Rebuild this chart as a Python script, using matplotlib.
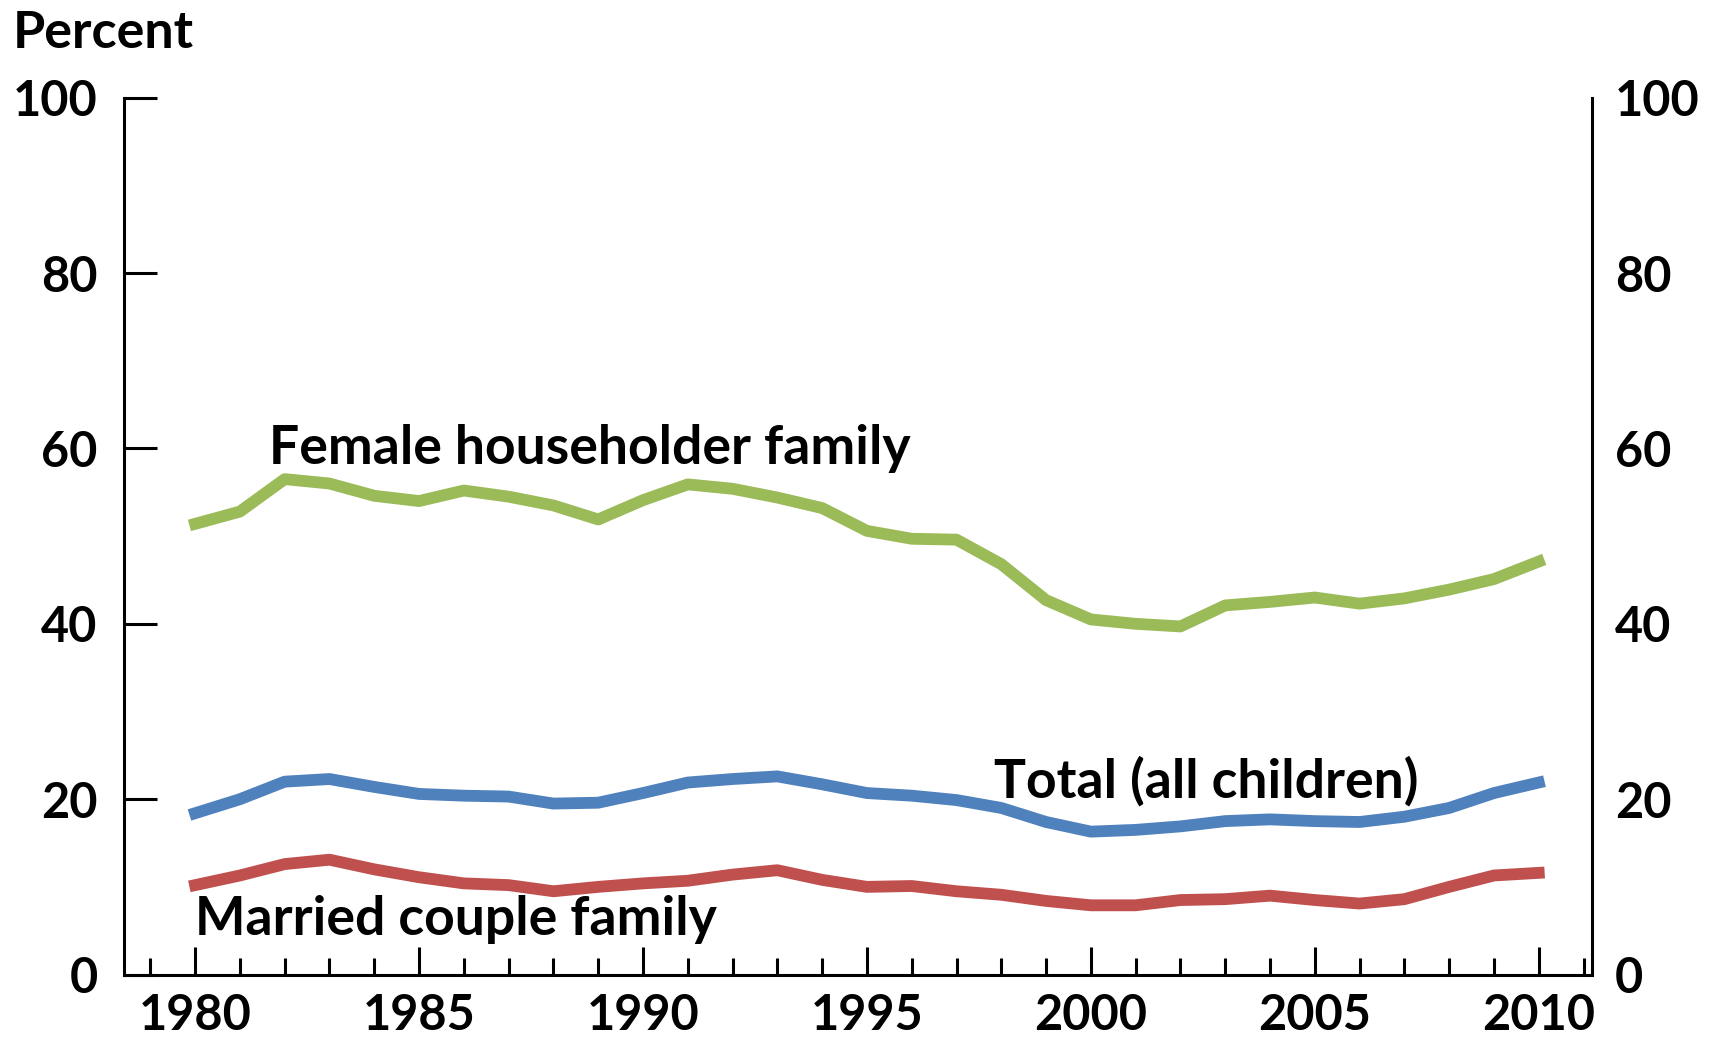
import matplotlib.pyplot as plt
from matplotlib.ticker import MultipleLocator

years = list(range(1980, 2011))

female_householder = [51.4, 52.8, 56.5, 56.0, 54.6, 54.0, 55.2, 54.5, 53.5, 51.9,
                      54.1, 55.9, 55.4, 54.4, 53.2, 50.6, 49.7, 49.6, 46.8, 42.7,
                      40.5, 40.0, 39.7, 42.1, 42.5, 43.0, 42.3, 42.9, 43.9, 45.1, 47.1]
total_children = [18.4, 20.0, 22.0, 22.3, 21.4, 20.6, 20.4, 20.3, 19.5, 19.6,
                  20.7, 21.9, 22.3, 22.6, 21.7, 20.7, 20.4, 19.9, 19.0, 17.4,
                  16.3, 16.5, 16.9, 17.5, 17.7, 17.5, 17.4, 18.0, 19.0, 20.7, 21.9]
married_couple = [10.2, 11.3, 12.6, 13.1, 12.0, 11.1, 10.4, 10.2, 9.5, 10.0,
                  10.4, 10.7, 11.4, 11.9, 10.8, 10.0, 10.1, 9.5, 9.1, 8.4,
                  7.9, 7.9, 8.5, 8.6, 9.0, 8.5, 8.1, 8.6, 10.0, 11.3, 11.6]

y_ticks = [0, 20, 40, 60, 80, 100]
x_ticks = [1980, 1985, 1990, 1995, 2000, 2005, 2010]

font = "Lato"
tick_size = 35
label_size = 38.5
weight = "bold"

fig = plt.figure(figsize=(17.21, 10.37), dpi=100)
ax = fig.add_axes([0.0720, 0.0602, 0.8528, 0.8456])

ax.plot(years, female_householder, color="#9BBB59", linewidth=8.5)
ax.plot(years, total_children, color="#4F81BD", linewidth=8.5)
ax.plot(years, married_couple, color="#C0504D", linewidth=8.5)

ax.set_xlim(1978.41, 2011.18)
ax.set_ylim(0, 100)

for side in ["left", "right", "bottom"]:
    ax.spines[side].set_linewidth(2.2)
ax.spines["top"].set_visible(False)

ax.set_xticks(x_ticks)
ax.xaxis.set_minor_locator(MultipleLocator(1))
ax.tick_params(axis="x", which="major", direction="in", length=20, width=2.2, pad=13)
ax.tick_params(axis="x", which="minor", direction="in", length=12.5, width=2.2)
ax.set_yticks(y_ticks)
ax.tick_params(axis="y", which="major", direction="in", length=24, width=2.2,
               left=True, right=True, labelleft=True, labelright=False, pad=19)

for lbl in ax.get_xticklabels() + ax.get_yticklabels():
    lbl.set_fontfamily(font)
    lbl.set_fontsize(tick_size)
    lbl.set_fontweight(weight)

# no tick marks at 0 on the y axes
ax.yaxis.get_major_ticks()[0].tick1line.set_visible(False)
ax.yaxis.get_major_ticks()[0].tick2line.set_visible(False)

ax_r = ax.twinx()
ax_r.set_ylim(0, 100)
ax_r.set_yticks(y_ticks)
ax_r.tick_params(axis="y", direction="in", length=0, pad=17)
for side in ["left", "right", "bottom", "top"]:
    ax_r.spines[side].set_visible(False)
for lbl in ax_r.get_yticklabels():
    lbl.set_fontfamily(font)
    lbl.set_fontsize(tick_size)
    lbl.set_fontweight(weight)

text_kw = dict(fontfamily=font, fontsize=label_size, fontweight=weight, va="baseline", ha="left")
ax.text(1981.64, 58.2, "Female householder family", **text_kw)
ax.text(1997.83, 20.2, "Total (all children)", **text_kw)
ax.text(1980.0, 4.5, "Married couple family", **text_kw)

fig.text(13 / 1721, 1 - 33 / 1037, "Percent", fontfamily=font, fontsize=37.5,
         fontweight=weight, va="center", ha="left")

fig.savefig("out.png", dpi=100)
plt.close(fig)
